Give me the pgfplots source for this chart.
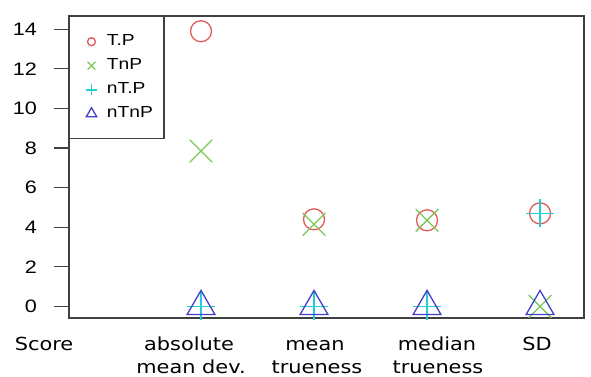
\documentclass[border=0pt]{standalone}
\usepackage{fontspec}
\setmainfont{Liberation Sans}[FakeStretch=1.2]
\newfontfamily\xfont{DejaVu Sans}[FakeStretch=1.16]
\usepackage{pgfplots}
\pgfplotsset{compat=1.18}
\definecolor{cTP}{HTML}{E05A5A}
\definecolor{cTnP}{HTML}{7CC85A}
\definecolor{cnTP}{HTML}{22CCD8}
\definecolor{cnTnP}{HTML}{4040C8}
\definecolor{boxc}{HTML}{404040}
\begin{document}
\begin{tikzpicture}[x=1bp,y=1bp]
\begin{axis}[
  at={(0,0)}, anchor=south west,
  scale only axis, width=515bp, height=302bp,
  xmin=-0.168, xmax=4.389, ymin=-0.585, ymax=14.67,
  xtick=\empty,
  ytick={0,2,4,6,8,10,12,14},
  ytick pos=left,
  tick align=outside, major tick length=15bp,
  ytick style={line width=1.2bp, boxc},
  axis line style={line width=1.6bp, boxc},
  /pgf/number format/assume math mode=true,
  yticklabel style={font=\fontsize{18bp}{21bp}\selectfont, inner xsep=2bp, xshift=-15bp},
  clip=false,
  legend cell align=left,
  legend style={at={(0,1)}, anchor=north west, draw=boxc, line width=1.4bp,
    font=\fontsize{16bp}{19bp}\selectfont, row sep=5bp, inner xsep=9bp, inner ysep=15.5bp,
    column sep=8bp,
    nodes={inner sep=2bp, text height=11.5bp, text depth=3.5bp}},
  legend image code/.code={\path (0bp,0bp); \draw[mark repeat=2,mark phase=2,#1] plot coordinates {(4bp,0bp)(12bp,0bp)(20bp,0bp)};},
]
\addplot[only marks, mark=o, mark size=10.5bp, cTP, line width=1.3bp, legend image post style={mark size=4bp}]
  coordinates {(1,13.9) (2,4.4) (3,4.35) (4,4.7)};
\addlegendentry{T.P}
\addplot[only marks, mark=x, mark size=16bp, cTnP, line width=1.3bp, legend image post style={mark size=5.5bp}]
  coordinates {(1,7.85) (2,4.15) (3,4.35) (4,0)};
\addlegendentry{TnP}
\addplot[only marks, mark=+, mark size=14bp, cnTP, line width=1.3bp, legend image post style={mark size=5.5bp, line width=1.6bp, mark options={cnTP}}]
  coordinates {(1,0) (2,0) (3,0) (4,4.7)};
\addlegendentry{nT.P}
\addplot[only marks, mark=triangle, mark size=16bp, cnTnP, line width=1.3bp, legend image post style={mark size=6bp}]
  coordinates {(1,0) (2,0) (3,0) (4,0)};
\addlegendentry{nTnP}
\end{axis}
\begin{scope}[every node/.style={font=\xfont\fontsize{18bp}{21bp}\selectfont, anchor=base, inner sep=0pt}]
\node at (44-69, -32) {Score};
\node at (189-69, -32) {absolute};
\node at (191-69, -55) {mean dev.};
\node at (315-69, -32) {mean};
\node at (317-69, -55) {trueness};
\node at (437-69, -32) {median};
\node at (438-69, -55) {trueness};
\node at (537-69, -32) {SD};
\end{scope}
\pgfresetboundingbox
\path (-69,-58) rectangle (522,318);
\end{tikzpicture}
\end{document}
